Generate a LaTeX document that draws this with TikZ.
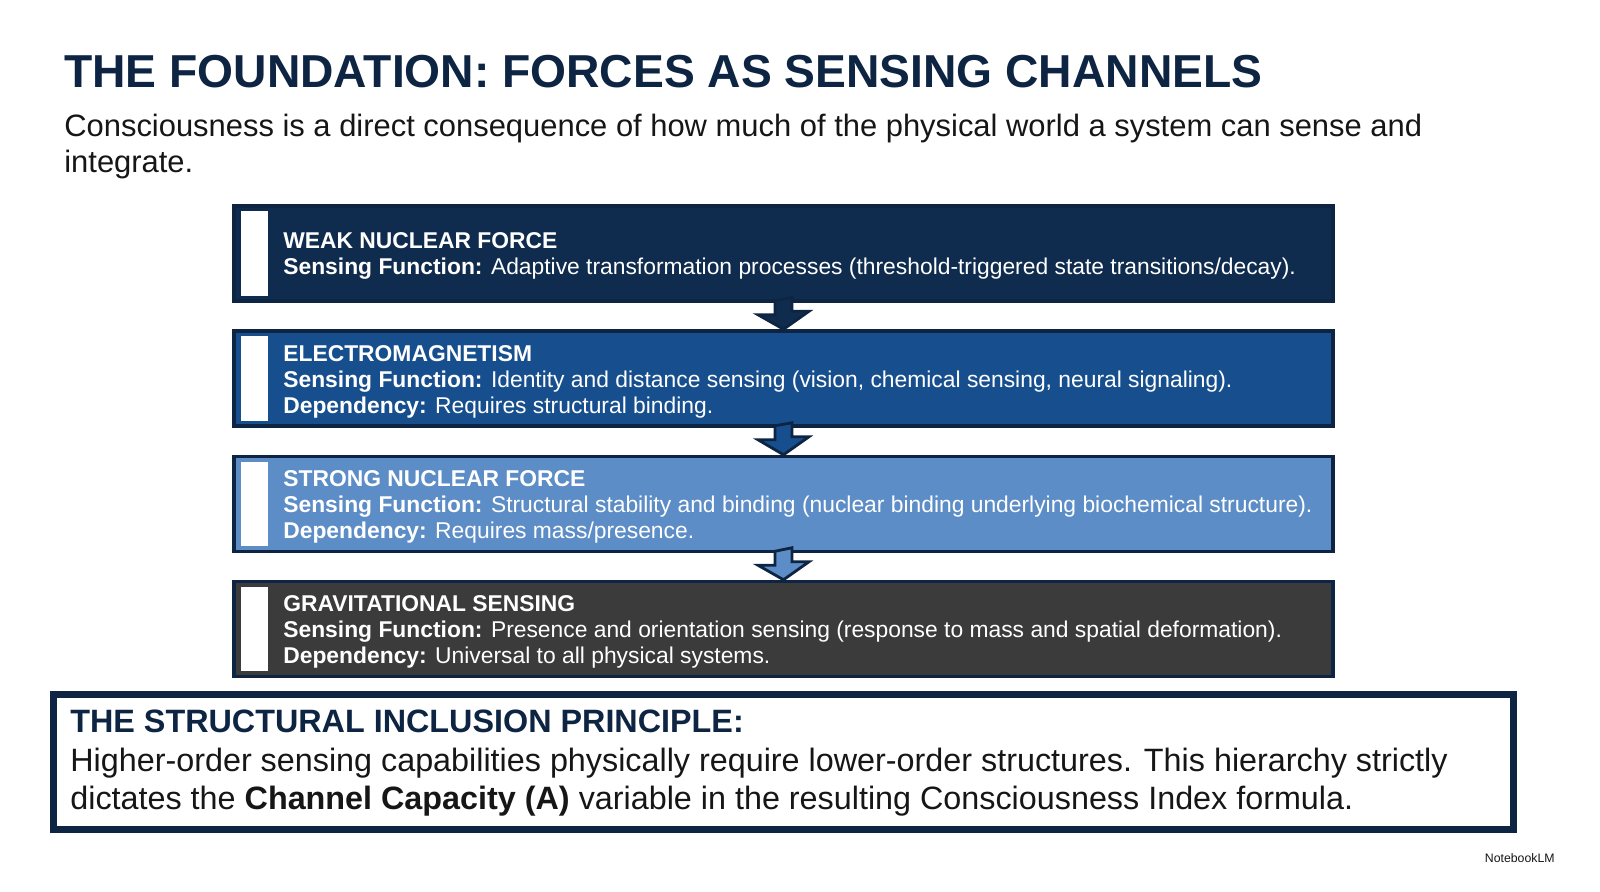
\documentclass[tikz,border=0pt]{standalone}
\usepackage{fontspec}
\setmainfont{Liberation Sans}
\usetikzlibrary{calc}
\definecolor{navy}{HTML}{0D2543}
\definecolor{cA}{HTML}{0F2B4D}
\definecolor{cB}{HTML}{174F8E}
\definecolor{cC}{HTML}{5C8DC6}
\definecolor{cD}{HTML}{3B3B3B}
\definecolor{ink}{HTML}{161616}
\begin{document}
\begin{tikzpicture}[x=0.02cm,y=-0.02cm,
  box/.style={draw=navy,line width=2pt,minimum width=21.98cm,minimum height=1.9cm,inner sep=0pt},
  stripe/.style={fill=white,draw=none,minimum width=0.54cm,minimum height=1.7cm,inner sep=0pt},
  btxt/.style={anchor=west,text=white,font=\fontsize{13}{15}\selectfont,align=left,inner sep=0pt},
  arr/.style={draw=navy,line width=1.6pt,line join=miter}]
\useasboundingbox (0,0) rectangle (1600,892);
\fill[white] (0,0) rectangle (1600,892);
\node[anchor=base west,inner sep=0pt,text=navy,font=\fontsize{26.3}{30}\selectfont\bfseries] (title) at (64,88) {THE FOUNDATION: FORCES AS SENSING CHANNELS};
\node[anchor=north west,inner sep=0pt,text=ink,align=left,font=\fontsize{17.6}{20.5}\selectfont] (sub) at (64,114) {Consciousness is a direct consequence of how much of the physical world a system can sense and\\integrate.};
\node[box,fill=cA] (b1) at (783.5,253.5) {};
\node[box,fill=cB] (b2) at (783.5,378.5) {};
\node[box,fill=cC] (b3) at (783.5,504) {};
\node[box,fill=cD] (b4) at (783.5,629) {};
\foreach \b in {b1,b2,b3,b4}{\node[stripe] (s\b) at ($(\b.west)+(22,0)$) {};}
\node[btxt] (t1) at (283,256) {\textbf{WEAK NUCLEAR FORCE}\\\textbf{Sensing Function:} Adaptive transformation processes (threshold-triggered state transitions/decay).};
\node[btxt] (t2) at (283,382) {\textbf{ELECTROMAGNETISM}\\\textbf{Sensing Function:} Identity and distance sensing (vision, chemical sensing, neural signaling).\\\textbf{Dependency:} Requires structural binding.};
\node[btxt] (t3) at (283,507) {\textbf{STRONG NUCLEAR FORCE}\\\textbf{Sensing Function:} Structural stability and binding (nuclear binding underlying biochemical structure).\\\textbf{Dependency:} Requires mass/presence.};
\node[btxt] (t4) at (283,632) {\textbf{GRAVITATIONAL SENSING}\\\textbf{Sensing Function:} Presence and orientation sensing (response to mass and spatial deformation).\\\textbf{Dependency:} Universal to all physical systems.};
\foreach \u/\l/\c in {b1/b2/cA,b2/b3/cB,b3/b4/cC}{
  \draw[arr,fill=\c] ($(\u.south)+(-8.5,-2)$) -- ++(0,14) -- ++(-17,0) -- (\l.north) -- ++(25.5,-18) -- ++(-17,0) -- ++(0,-14) -- cycle;
}
\node[draw=navy,line width=4pt,fill=white,minimum width=29.2cm,minimum height=2.7cm,inner sep=0pt] (pr) at (783.5,762) {};
\node[anchor=north west,inner sep=0pt,text=ink,align=left,font=\fontsize{18.4}{21.7}\selectfont] (prt) at (70,710) {{\color{navy}\bfseries THE STRUCTURAL INCLUSION PRINCIPLE:}\\Higher-order sensing capabilities physically require lower-order structures. This hierarchy strictly\\dictates the \textbf{Channel Capacity (A)} variable in the resulting Consciousness Index formula.};
\node[anchor=east,inner sep=0pt,text=ink,font=\fontsize{7}{8}\selectfont] (logo) at (1555,858) {NotebookLM};
\end{tikzpicture}
\end{document}
